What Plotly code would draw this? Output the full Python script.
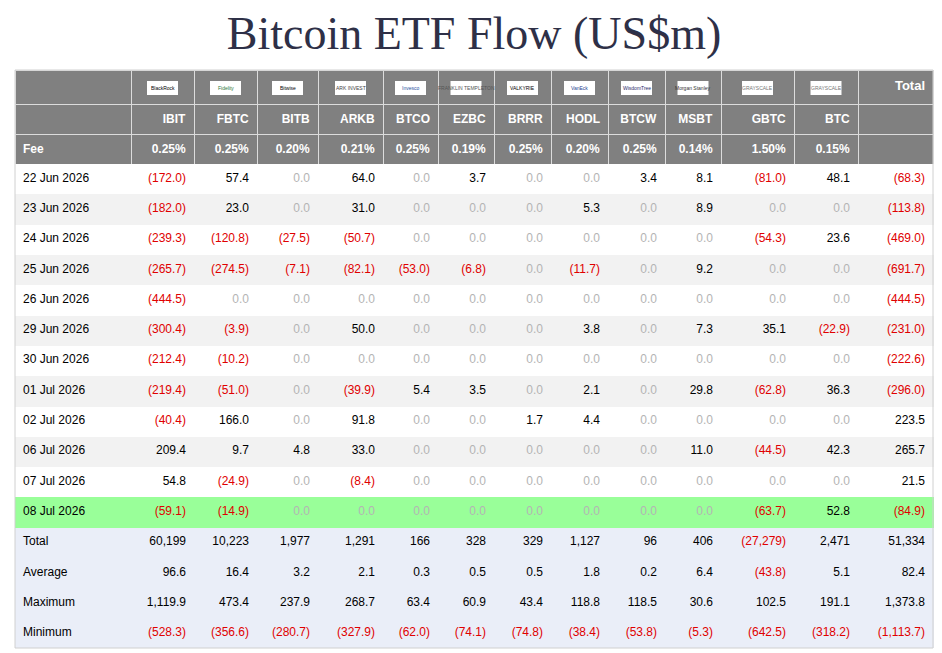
import plotly.graph_objects as go

# ETF tickers, issuers and fees
tickers = ['IBIT', 'FBTC', 'BITB', 'ARKB', 'BTCO', 'EZBC', 'BRRR', 'HODL', 'BTCW', 'MSBT', 'GBTC', 'BTC']
issuers = ['BlackRock', 'Fidelity', 'Bitwise', 'ARK INVEST', 'Invesco', 'FRANKLIN TEMPLETON',
           'VALKYRIE', 'VanEck', 'WisdomTree', 'Morgan Stanley', 'GRAYSCALE', 'GRAYSCALE']
fees = [0.25, 0.25, 0.20, 0.21, 0.25, 0.19, 0.25, 0.20, 0.25, 0.14, 1.50, 0.15]

dates = ['22 Jun 2026', '23 Jun 2026', '24 Jun 2026', '25 Jun 2026', '26 Jun 2026', '29 Jun 2026',
         '30 Jun 2026', '01 Jul 2026', '02 Jul 2026', '06 Jul 2026', '07 Jul 2026', '08 Jul 2026']

# daily flows (US$m)
ibit = [-172.0, -182.0, -239.3, -265.7, -444.5, -300.4, -212.4, -219.4, -40.4, 209.4, 54.8, -59.1]
fbtc = [57.4, 23.0, -120.8, -274.5, 0.0, -3.9, -10.2, -51.0, 166.0, 9.7, -24.9, -14.9]
bitb = [0.0, 0.0, -27.5, -7.1, 0.0, 0.0, 0.0, 0.0, 0.0, 4.8, 0.0, 0.0]
arkb = [64.0, 31.0, -50.7, -82.1, 0.0, 50.0, 0.0, -39.9, 91.8, 33.0, -8.4, 0.0]
btco = [0.0, 0.0, 0.0, -53.0, 0.0, 0.0, 0.0, 5.4, 0.0, 0.0, 0.0, 0.0]
ezbc = [3.7, 0.0, 0.0, -6.8, 0.0, 0.0, 0.0, 3.5, 0.0, 0.0, 0.0, 0.0]
brrr = [0.0, 0.0, 0.0, 0.0, 0.0, 0.0, 0.0, 0.0, 1.7, 0.0, 0.0, 0.0]
hodl = [0.0, 5.3, 0.0, -11.7, 0.0, 3.8, 0.0, 2.1, 4.4, 0.0, 0.0, 0.0]
btcw = [3.4, 0.0, 0.0, 0.0, 0.0, 0.0, 0.0, 0.0, 0.0, 0.0, 0.0, 0.0]
msbt = [8.1, 8.9, 0.0, 9.2, 0.0, 7.3, 0.0, 29.8, 0.0, 11.0, 0.0, 0.0]
gbtc = [-81.0, 0.0, -54.3, 0.0, 0.0, 35.1, 0.0, -62.8, 0.0, -44.5, 0.0, -63.7]
btc = [48.1, 0.0, 23.6, 0.0, 0.0, -22.9, 0.0, 36.3, 0.0, 42.3, 0.0, 52.8]
daily_total = [-68.3, -113.8, -469.0, -691.7, -444.5, -231.0, -222.6, -296.0, 223.5, 265.7, 21.5, -84.9]

# all-time summary (ticker columns then Total)
sum_total = [60199, 10223, 1977, 1291, 166, 328, 329, 1127, 96, 406, -27279, 2471, 51334]
sum_average = [96.6, 16.4, 3.2, 2.1, 0.3, 0.5, 0.5, 1.8, 0.2, 6.4, -43.8, 5.1, 82.4]
sum_maximum = [1119.9, 473.4, 237.9, 268.7, 63.4, 60.9, 43.4, 118.8, 118.5, 30.6, 102.5, 191.1, 1373.8]
sum_minimum = [-528.3, -356.6, -280.7, -327.9, -62.0, -74.1, -74.8, -38.4, -53.8, -5.3, -642.5, -318.2, -1113.7]

flows = [ibit, fbtc, bitb, arkb, btco, ezbc, brrr, hodl, btcw, msbt, gbtc, btc, daily_total]

GREY = '#808080'
STRIPE = '#f2f2f2'
TODAY = '#99ff99'
SUMMARY = '#eaeef8'
RED = '#e00000'
ZERO = '#b4b4b4'


def fmt(v, dec=1):
    s = f'{abs(v):,.{dec}f}'
    return f'({s})' if v < 0 else s


def colour(v, zero_grey=True):
    if v < 0:
        return RED
    if v == 0 and zero_grey:
        return ZERO
    return 'black'


n_days = len(dates)
row_fill = [GREY, GREY] + [STRIPE if i % 2 else 'white' for i in range(n_days)]
row_fill[-1] = TODAY
row_fill += [SUMMARY] * 4

# first column
col_values = [['', '<b>Fee</b>'] + dates + ['Total', 'Average', 'Maximum', 'Minimum']]
col_colors = [['white', 'white'] + ['black'] * (n_days + 4)]

for j, series in enumerate(flows):
    head = f'<b>{tickers[j]}</b>' if j < len(tickers) else ''
    fee = f'<b>{fees[j]:.2f}%</b>' if j < len(fees) else ''
    vals = [head, fee] + [fmt(v) for v in series]
    vals += [fmt(sum_total[j], 0), fmt(sum_average[j]), fmt(sum_maximum[j]), fmt(sum_minimum[j])]
    cols = ['white', 'white'] + [colour(v) for v in series]
    cols += [colour(sum_total[j], False), colour(sum_average[j], False),
             colour(sum_maximum[j], False), colour(sum_minimum[j], False)]
    col_values.append(vals)
    col_colors.append(cols)

n_cols = len(col_values)
fill_grid = [row_fill[:] for _ in range(n_cols)]
line_grid = [['#dcdcdc', '#dcdcdc'] + row_fill[2:] for _ in range(n_cols)]
col_align = ['left'] + ['right'] * (n_cols - 1)

col_widths = [116, 63, 63, 61, 65, 55, 56, 57, 57, 57, 56, 73, 64, 75]

fig = go.Figure(go.Table(
    columnwidth=col_widths,
    header=dict(
        values=[''] * (n_cols - 1) + ['<b>Total</b>'],
        fill_color=GREY,
        line_color='#dcdcdc',
        line_width=1,
        align='right',
        font=dict(family='Arial, Liberation Sans', size=13, color='white'),
        height=34,
    ),
    cells=dict(
        values=col_values,
        fill_color=fill_grid,
        line_color=line_grid,
        line_width=1,
        align=col_align,
        font=dict(family='Arial, Liberation Sans', size=12, color=col_colors),
        height=30.3,
    ),
))

# the page body adds an 8px offset, margins compensate for it
W, H = 942, 653
ML, MR, MT, MB = 7, 17, 62, 13
plot_w = W - ML - MR
plot_h = H - MT - MB

# issuer logo boxes in the first header row
logo_colours = ['black', '#2d7a3a', 'black', '#444444', '#1f4fa0', '#555555',
                'black', '#1f3f8f', '#2a2a6a', '#333333', '#777777', '#777777']
total_w = sum(col_widths)
edges = [0]
for w in col_widths:
    edges.append(edges[-1] + w)
for j, name in enumerate(issuers):
    cx = (edges[j + 1] + edges[j + 2]) / 2 / total_w
    bw = 31 / plot_w
    bh = 14 / plot_h
    cy = 1 - 18 / plot_h
    fig.add_shape(type='rect', xref='paper', yref='paper',
                  x0=cx - bw / 2, x1=cx + bw / 2, y0=cy - bh / 2, y1=cy + bh / 2,
                  fillcolor='white', line_width=0, layer='above')
    fig.add_annotation(x=cx, y=cy, xref='paper', yref='paper', text=name, showarrow=False,
                       xanchor='center', yanchor='middle', borderpad=0,
                       font=dict(family='Arial, Liberation Sans', size=5, color=logo_colours[j]))

# outer border of the body
fig.add_shape(type='rect', xref='paper', yref='paper', x0=0, x1=1, y0=0, y1=1,
              line=dict(color='#d0d0d0', width=1), layer='above')

fig.update_layout(
    width=W, height=H,
    margin=dict(l=ML, r=MR, t=MT, b=MB),
    paper_bgcolor='white',
    title=dict(text='Bitcoin ETF Flow (US$m)', x=(ML + plot_w / 2) / W, xanchor='center',
               y=1 - 25 / H, yanchor='middle', yref='container',
               font=dict(family='Liberation Serif, Times New Roman', size=46, color='#2e3047')),
)

fig.write_html('out.html')
